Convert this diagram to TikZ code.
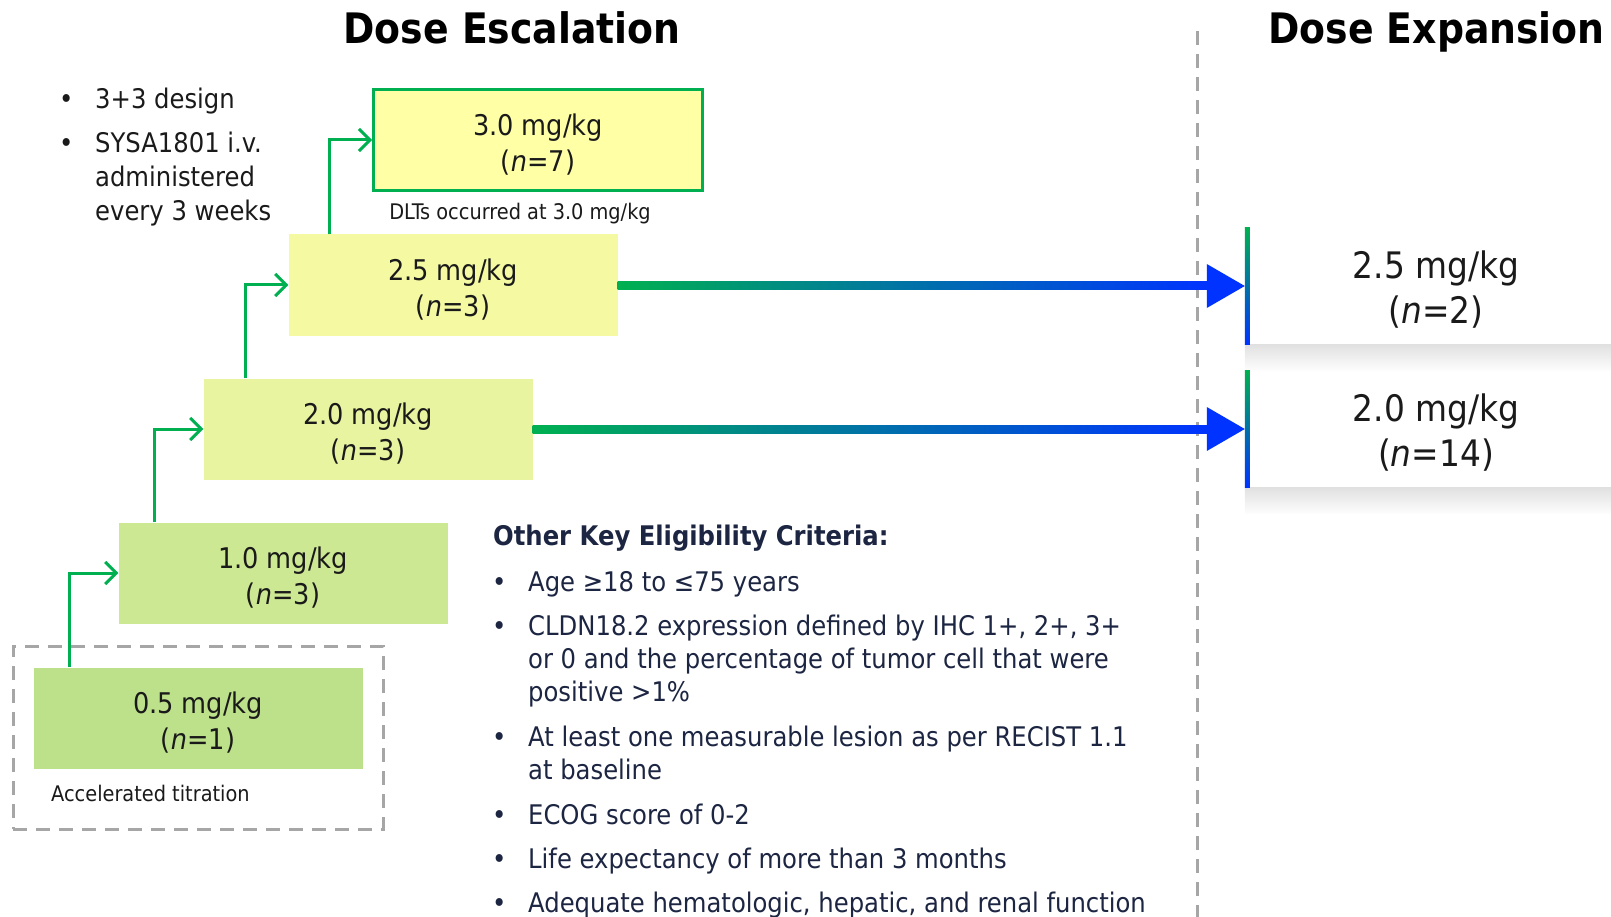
\documentclass[tikz,border=0pt]{standalone}
\usepackage{fontspec}
\setmainfont{DejaVu Sans Condensed}
\usetikzlibrary{arrows.meta,calc}

\definecolor{stepgreen}{HTML}{00B050}
\definecolor{expblue}{HTML}{0033FF}
\definecolor{ink}{HTML}{1A1A1A}
\definecolor{navy}{HTML}{1C2541}
\definecolor{dashgrey}{HTML}{A6A6A6}
\definecolor{d30}{HTML}{FFFFA6}
\definecolor{d25}{HTML}{F4F9A2}
\definecolor{d20}{HTML}{E9F4A0}
\definecolor{d10}{HTML}{CDE892}
\definecolor{d05}{HTML}{BDE18A}

\newcommand{\titlefont}{\fontsize{42}{48}\selectfont\bfseries}
\newcommand{\dosefont}{\fontsize{28.5}{36}\selectfont}
\newcommand{\expfont}{\fontsize{36.5}{45}\selectfont}
\newcommand{\notefont}{\fontsize{21.5}{24}\selectfont}
\newcommand{\listfont}{\fontsize{27}{34}\selectfont}
\newcommand{\dosestrut}{\rule{0pt}{30pt}}
\newcommand{\expstrut}{\rule{0pt}{35pt}}

\begin{document}
\begin{tikzpicture}[x=1pt,y=-1pt]
        \tikzstyle{every node}=[inner sep=0pt, text=ink]
        \tikzstyle{dosebox}=[minimum width=329pt, minimum height=101pt, align=center, font=\dosefont]
        \tikzstyle{expbox}=[fill=white, minimum width=382pt, minimum height=116pt, align=center, font=\expfont]
        \tikzstyle{steparrow}=[draw=stepgreen, line width=3pt, -{Straight Barb[length=11pt,width=22pt]}]
        \tikzstyle{greyline}=[draw=dashgrey, line width=3pt, dash pattern=on 14pt off 9pt]
        \useasboundingbox (0,0) rectangle (1611,917);

        % titles and separator
        \node[font=\titlefont, text=black, anchor=base] (esc) at (512,44) {Dose Escalation};
        \node[font=\titlefont, text=black, anchor=base east] (expn) at (1605,44) {Dose Expansion};
        \draw[greyline] (1197,31) -- (1197,917);

        % escalation steps
        \node[greyline, minimum width=370pt, minimum height=183pt] (titr) at (198,737.5) {};
        \node[dosebox, fill=d05] (b05) at (198,718) {\dosestrut 0.5 mg/kg\\(\textit{n}=1)};
        \node[dosebox, fill=d10] (b10) at (283,573) {\dosestrut 1.0 mg/kg\\(\textit{n}=3)};
        \node[dosebox, fill=d20] (b20) at (368,429) {\dosestrut 2.0 mg/kg\\(\textit{n}=3)};
        \node[dosebox, fill=d25] (b25) at (453,285) {\dosestrut 2.5 mg/kg\\(\textit{n}=3)};
        \node[dosebox, fill=d30, draw=stepgreen, line width=3pt] (b30) at (538,140) {\dosestrut 3.0 mg/kg\\(\textit{n}=7)};
        \node[font=\notefont, anchor=base west] (titrlbl) at (51,801) {Accelerated titration};
        \node[font=\notefont] (dlt) at (520,214) {DLTs occurred at 3.0 mg/kg};

        \foreach \lo/\hi/\dx in {b05/b10/36, b10/b20/36, b20/b25/42, b25/b30/41}
            \draw[steparrow] ([xshift=\dx pt]\lo.north west) |- (\hi.west);

        % expansion cohorts
        \node[expbox] (e25) at (1436,286) {\expstrut 2.5 mg/kg\\(\textit{n}=2)};
        \node[expbox] (e20) at (1436,429) {\expstrut 2.0 mg/kg\\(\textit{n}=14)};
        \foreach \src/\dst in {b25/e25, b20/e20}{
            \shade[top color=black!12, bottom color=white] (\dst.south west) rectangle ($(\dst.south east)+(0,28)$);
            \shade[top color=stepgreen, bottom color=expblue] (\dst.north west) rectangle ($(\dst.south west)+(5,0)$);
            \shade[left color=stepgreen, right color=expblue] ($(\src.east |- \dst.west)+(0,-4)$) rectangle ($(\dst.west)+(-38,4)$);
            \fill[expblue] (\dst.west) -- ++(-38,-22) -- ++(0,44) -- cycle;
        }

        % design notes
        \foreach \y/\b/\t [count=\i] in {109/•/3+3 design, 153/•/SYSA1801 i.v., 187//administered, 221//every 3 weeks}{
            \node[font=\listfont, anchor=base west] (db\i) at (59,\y) {\b};
            \node[font=\listfont, anchor=base west] (dn\i) at (95,\y) {\t};
        }

        % eligibility criteria
        \node[font=\listfont\bfseries, text=navy, anchor=base west] (crit) at (493,545) {Other Key Eligibility Criteria:};
        \foreach \y/\b/\t [count=\i] in {591/•/Age ≥18 to ≤75 years,
                635/•/{CLDN18.2 expression defined by IHC 1+, 2+, 3+},
                668//or 0 and the percentage of tumor cell that were,
                701//positive >1\%,
                746/•/At least one measurable lesion as per RECIST 1.1,
                779//at baseline,
                824/•/ECOG score of 0-2,
                868/•/Life expectancy of more than 3 months,
                912/•/{Adequate hematologic, hepatic, and renal function}}{
            \node[font=\listfont, text=navy, anchor=base west] (cb\i) at (492,\y) {\b};
            \node[font=\listfont, text=navy, anchor=base west] (cr\i) at (528,\y) {\t};
        }
    \end{tikzpicture}
\end{document}
